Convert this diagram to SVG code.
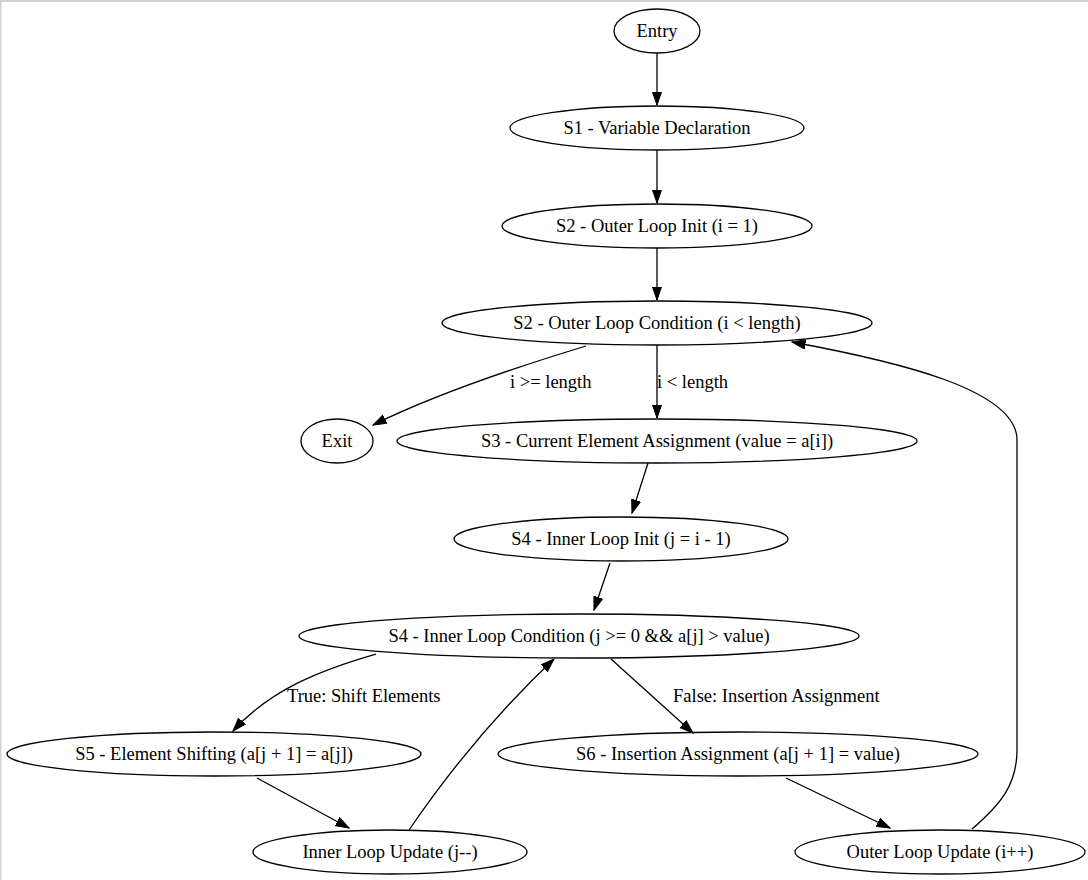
<svg xmlns="http://www.w3.org/2000/svg" width="1088" height="880" viewBox="0 0 1088 880">
<style>
.n ellipse{fill:none;stroke:#000;stroke-width:1.3}
text{font-family:"Liberation Serif","Times New Roman",serif;font-size:18.5px;fill:#000}
.n text{text-anchor:middle}
.e path{fill:none;stroke:#000;stroke-width:1.3}
</style>
<defs>
<marker id="ah" markerUnits="userSpaceOnUse" markerWidth="16" markerHeight="12" refX="13.5" refY="5" orient="auto">
<path d="M0,0.3 L13.5,5 L0,9.7 Z" fill="#000" stroke="#000" stroke-width="1"/>
</marker>
</defs>
<rect width="1088" height="880" fill="#fff"/>
<path d="M0,1 H1088 M0.5,0 V880" stroke="#d0d0d0" stroke-width="2" fill="none"/>
<g id="connectors" class="e">
<path d="M657,53 V105" marker-end="url(#ah)"/>
<path d="M657,150 V203" marker-end="url(#ah)"/>
<path d="M657,248 V300" marker-end="url(#ah)"/>
<path d="M586,346 C520,366 440,392 373,425" marker-end="url(#ah)"/>
<text x="510" y="388">i &gt;= length</text>
<path d="M657,345 V418" marker-end="url(#ah)"/>
<text x="657" y="388">i &lt; length</text>
<path d="M648,463 L632,513" marker-end="url(#ah)"/>
<path d="M610,563 L594,610" marker-end="url(#ah)"/>
<path d="M376,654 C320,670 270,690 233,731" marker-end="url(#ah)"/>
<text x="287" y="702">True: Shift Elements</text>
<path d="M611,659 L693,733" marker-end="url(#ah)"/>
<text x="673" y="702">False: Insertion Assignment</text>
<path d="M257,778 L349,828" marker-end="url(#ah)"/>
<path d="M409,830 C450,770 500,710 554,659" marker-end="url(#ah)"/>
<path d="M786,778 L890,828" marker-end="url(#ah)"/>
<path d="M972,829 C1000,805 1017,785 1017,750 L1017,440 C1017,390 900,362 792,342" marker-end="url(#ah)"/>
</g>
<g id="entry" class="n"><ellipse cx="657" cy="31" rx="43" ry="22"/><text x="657" y="37">Entry</text></g>
<g id="s1" class="n"><ellipse cx="657" cy="128" rx="147" ry="22"/><text x="657" y="134">S1 - Variable Declaration</text></g>
<g id="s2init" class="n"><ellipse cx="657" cy="226" rx="155" ry="22"/><text x="657" y="232">S2 - Outer Loop Init (i = 1)</text></g>
<g id="s2cond" class="n"><ellipse cx="657" cy="323" rx="215" ry="22"/><text x="657" y="329">S2 - Outer Loop Condition (i &lt; length)</text></g>
<g id="exit" class="n"><ellipse cx="337" cy="441" rx="36" ry="22"/><text x="337" y="447">Exit</text></g>
<g id="s3" class="n"><ellipse cx="657" cy="441" rx="260" ry="22"/><text x="657" y="447">S3 - Current Element Assignment (value = a[i])</text></g>
<g id="s4init" class="n"><ellipse cx="621" cy="539" rx="167" ry="22"/><text x="621" y="545">S4 - Inner Loop Init (j = i - 1)</text></g>
<g id="s4cond" class="n"><ellipse cx="579" cy="636" rx="280" ry="22"/><text x="579" y="642">S4 - Inner Loop Condition (j &gt;= 0 &amp;&amp; a[j] &gt; value)</text></g>
<g id="s5" class="n"><ellipse cx="214" cy="754" rx="207" ry="22"/><text x="214" y="760">S5 - Element Shifting (a[j + 1] = a[j])</text></g>
<g id="s6" class="n"><ellipse cx="738" cy="754" rx="240" ry="22"/><text x="738" y="760">S6 - Insertion Assignment (a[j + 1] = value)</text></g>
<g id="innerupdate" class="n"><ellipse cx="390" cy="852" rx="137" ry="22"/><text x="390" y="858">Inner Loop Update (j--)</text></g>
<g id="outerupdate" class="n"><ellipse cx="940" cy="852" rx="145" ry="22"/><text x="940" y="858">Outer Loop Update (i++)</text></g>
</svg>
